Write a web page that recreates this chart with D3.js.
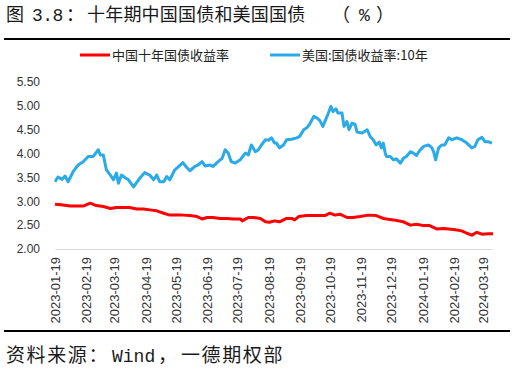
<!DOCTYPE html>
<html><head><meta charset="utf-8">
<script src="https://cdn.jsdelivr.net/npm/d3@7/dist/d3.min.js"></script>
<style>
html,body{margin:0;padding:0;background:#fff;}
svg{display:block;}
</style></head>
<body>
<svg id="chart" width="514" height="373"></svg>
<script>
const titleParts = ["图", "3.8", "：", "十年期中国国债和美国国债", "（", "%", "）"];
const sourceParts = ["资料来源：", "Wind", "，", "一德期权部"];
const seriesNames = ["中国十年国债收益率", "美国:国债收益率:10年"];
const yTicks = [2.0, 2.5, 3.0, 3.5, 4.0, 4.5, 5.0, 5.5];
const xTickLabels = ["2023-01-19","2023-02-19","2023-03-19","2023-04-19","2023-05-19","2023-06-19","2023-07-19","2023-08-19","2023-09-19","2023-10-19","2023-11-19","2023-12-19","2024-01-19","2024-02-19","2024-03-19"];

const cnDates = ["2023-01-19","2023-01-27","2023-02-03","2023-02-10","2023-02-16","2023-02-23","2023-03-01","2023-03-08","2023-03-15","2023-03-21","2023-03-28","2023-04-03","2023-04-10","2023-04-17","2023-04-23","2023-04-30","2023-05-07","2023-05-13","2023-05-20","2023-05-26","2023-06-02","2023-06-09","2023-06-14","2023-06-19","2023-06-25","2023-07-02","2023-07-08","2023-07-15","2023-07-22","2023-07-24","2023-07-30","2023-08-04","2023-08-11","2023-08-16","2023-08-20","2023-08-25","2023-08-30","2023-09-06","2023-09-11","2023-09-14","2023-09-18","2023-09-26","2023-10-06","2023-10-14","2023-10-19","2023-10-24","2023-10-29","2023-11-05","2023-11-11","2023-11-18","2023-11-26","2023-12-04","2023-12-11","2023-12-21","2023-12-31","2024-01-07","2024-01-13","2024-01-20","2024-01-26","2024-02-02","2024-02-09","2024-02-19","2024-02-27","2024-03-03","2024-03-08","2024-03-13","2024-03-18","2024-03-24","2024-03-29"];
const cnYield = [2.94,2.92,2.90,2.90,2.90,2.96,2.91,2.89,2.85,2.87,2.87,2.87,2.84,2.84,2.82,2.80,2.75,2.71,2.71,2.71,2.70,2.68,2.63,2.66,2.66,2.64,2.64,2.63,2.63,2.59,2.66,2.66,2.64,2.57,2.56,2.59,2.57,2.64,2.64,2.61,2.68,2.70,2.70,2.70,2.75,2.71,2.73,2.66,2.66,2.68,2.71,2.70,2.64,2.61,2.57,2.50,2.52,2.49,2.49,2.42,2.43,2.41,2.38,2.33,2.29,2.35,2.31,2.32,2.32];

const usDates = ["2023-01-19","2023-01-22","2023-01-26","2023-01-29","2023-02-01","2023-02-06","2023-02-11","2023-02-16","2023-02-21","2023-02-26","2023-03-03","2023-03-05","2023-03-08","2023-03-11","2023-03-15","2023-03-18","2023-03-21","2023-03-23","2023-03-26","2023-03-30","2023-04-02","2023-04-07","2023-04-12","2023-04-18","2023-04-23","2023-04-27","2023-04-30","2023-05-03","2023-05-07","2023-05-10","2023-05-13","2023-05-18","2023-05-22","2023-05-26","2023-05-29","2023-06-02","2023-06-07","2023-06-10","2023-06-14","2023-06-17","2023-06-22","2023-06-25","2023-06-30","2023-07-04","2023-07-07","2023-07-10","2023-07-13","2023-07-17","2023-07-22","2023-07-27","2023-07-30","2023-08-02","2023-08-06","2023-08-09","2023-08-12","2023-08-16","2023-08-19","2023-08-22","2023-08-25","2023-08-27","2023-08-30","2023-09-03","2023-09-06","2023-09-11","2023-09-16","2023-09-19","2023-09-23","2023-09-26","2023-09-29","2023-10-03","2023-10-06","2023-10-09","2023-10-12","2023-10-14","2023-10-17","2023-10-20","2023-10-22","2023-10-25","2023-10-27","2023-10-31","2023-11-02","2023-11-05","2023-11-07","2023-11-10","2023-11-13","2023-11-15","2023-11-20","2023-11-25","2023-11-28","2023-12-01","2023-12-04","2023-12-07","2023-12-09","2023-12-11","2023-12-13","2023-12-14","2023-12-18","2023-12-21","2023-12-24","2023-12-28","2023-12-31","2024-01-03","2024-01-07","2024-01-10","2024-01-13","2024-01-16","2024-01-20","2024-01-25","2024-01-28","2024-01-30","2024-02-01","2024-02-04","2024-02-07","2024-02-10","2024-02-14","2024-02-17","2024-02-22","2024-02-27","2024-03-03","2024-03-08","2024-03-11","2024-03-14","2024-03-18","2024-03-21","2024-03-24","2024-03-28"];
const usYield = [3.41,3.51,3.46,3.53,3.41,3.62,3.76,3.83,3.94,3.94,4.08,3.97,3.97,3.66,3.55,3.45,3.59,3.38,3.55,3.49,3.45,3.30,3.45,3.60,3.55,3.45,3.55,3.41,3.41,3.52,3.45,3.66,3.73,3.81,3.73,3.64,3.73,3.76,3.83,3.74,3.76,3.73,3.83,3.90,4.08,4.01,3.83,3.80,3.87,4.01,3.97,4.18,4.04,4.08,4.18,4.29,4.28,4.33,4.22,4.22,4.12,4.18,4.29,4.30,4.33,4.36,4.50,4.54,4.62,4.78,4.75,4.69,4.57,4.67,4.82,4.99,4.88,4.94,4.85,4.85,4.57,4.67,4.50,4.64,4.61,4.45,4.43,4.50,4.36,4.29,4.18,4.24,4.12,4.22,4.01,3.94,3.94,3.87,3.89,3.80,3.90,3.94,4.04,4.01,3.96,4.06,4.15,4.18,4.13,4.04,3.87,4.12,4.18,4.18,4.33,4.29,4.33,4.29,4.22,4.12,4.15,4.29,4.34,4.25,4.25,4.22];

const colors = ["#ff0000", "#2aaae6"];

const parse = d3.timeParse("%Y-%m-%d");
const svg = d3.select("#chart");

const x = d3.scaleTime()
  .domain([parse("2023-01-19"), parse("2024-03-28")])
  .range([55, 492]);
const y = d3.scaleLinear().domain([2.0, 5.5]).range([249, 82]);

const cjk = "'Noto Sans CJK SC', sans-serif";
const mono = "'Liberation Mono', 'DejaVu Sans Mono', monospace";

// Title
const titleX = [6, 32, 66, 87, 332, 359, 376];
const titleFont = [cjk, mono, cjk, cjk, cjk, mono, cjk];
const title = svg.append("text").attr("y", 21)
  .attr("font-family", cjk).attr("font-size", 18).attr("fill", "#1a1a1a");
titleParts.forEach((t, i) => {
  title.append("tspan").attr("x", titleX[i]).attr("font-family", titleFont[i])
    .style("letter-spacing", i === 3 ? "0.2px" : (i === 1 ? "-0.5px" : "0px"))
    .text(t);
});

// top and bottom rules
svg.append("line").attr("x1", 4).attr("x2", 510).attr("y1", 39).attr("y2", 39)
  .attr("stroke", "#000").attr("stroke-width", 2);
svg.append("line").attr("x1", 4).attr("x2", 510).attr("y1", 331).attr("y2", 331)
  .attr("stroke", "#000").attr("stroke-width", 2);

// Legend
const legendX = [80, 270];
seriesNames.forEach((name, i) => {
  const g = svg.append("g").attr("transform", `translate(${legendX[i]},55)`);
  g.append("line").attr("x1", 0).attr("x2", 30).attr("y1", 0).attr("y2", 0)
    .attr("stroke", colors[i]).attr("stroke-width", 3);
  g.append("text").attr("x", 32).attr("y", 0).attr("dy", "0.35em")
    .attr("font-family", cjk)
    .attr("font-size", 13).attr("fill", "#222")
    .text(name);
});

// Y axis labels
const yAxis = d3.axisLeft(y).tickValues(yTicks).tickFormat(d3.format(".2f")).tickSize(0).tickPadding(0);
const yg = svg.append("g").attr("transform", "translate(40,0)").call(yAxis);
yg.select(".domain").remove();
yg.selectAll("text").attr("font-family", "'Liberation Sans', Arial, sans-serif")
  .attr("font-size", 12).attr("fill", "#333");

// X axis
const xAxis = d3.axisBottom(x).tickValues(xTickLabels.map(parse))
  .tickFormat(d3.timeFormat("%Y-%m-%d")).tickSize(0).tickPadding(0);
const xg = svg.append("g").attr("transform", "translate(0,249)").call(xAxis);
xg.select(".domain").attr("stroke", "#d9d9d9").attr("stroke-width", 1);
xg.selectAll("text")
  .attr("font-family", "'Liberation Sans', Arial, sans-serif")
  .attr("font-size", 13).attr("fill", "#333")
  .attr("text-anchor", "end")
  .attr("transform", "rotate(-90)")
  .attr("x", -8).attr("y", 0).attr("dy", "0.35em");

// Lines
const line = d3.line().x(d => x(d[0])).y(d => y(d[1]));
const cnData = cnDates.map((d, i) => [parse(d), cnYield[i]]);
const usData = usDates.map((d, i) => [parse(d), usYield[i]]);
svg.append("path").datum(cnData).attr("d", line)
  .attr("fill", "none").attr("stroke", colors[0]).attr("stroke-width", 3).attr("stroke-linejoin", "round");
svg.append("path").datum(usData).attr("d", line)
  .attr("fill", "none").attr("stroke", colors[1]).attr("stroke-width", 3).attr("stroke-linejoin", "round");

// Source
const srcX = [6, 112, 158, 181];
const srcFont = [cjk, mono, cjk, cjk];
const src = svg.append("text").attr("y", 362)
  .attr("font-family", cjk).attr("font-size", 19).attr("fill", "#1a1a1a");
sourceParts.forEach((t, i) => {
  src.append("tspan").attr("x", srcX[i]).attr("font-family", srcFont[i])
    .style("letter-spacing", (i === 0 || i === 3) ? "1.6px" : "0px")
    .attr("font-size", i === 1 ? 18 : 19)
    .text(t);
});
</script>
</body></html>
